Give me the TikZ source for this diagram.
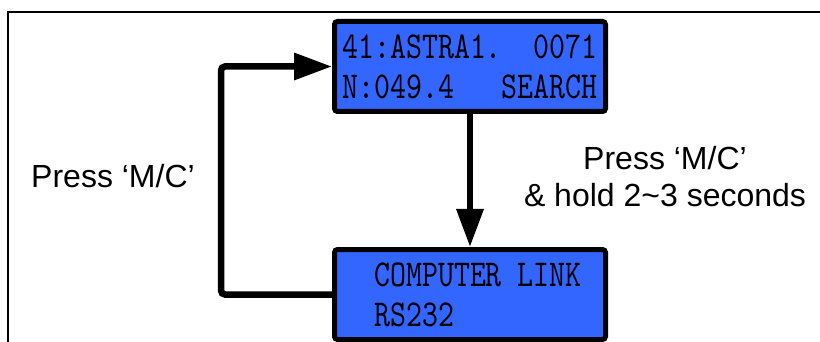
\documentclass[tikz,border=0pt]{standalone}
\usepackage{fontspec}
\usetikzlibrary{arrows.meta}
\newfontfamily\lcdfont[FakeStretch=0.8]{lmmono10-regular.otf}
\newfontfamily\labelfont{Liberation Sans}
\definecolor{lcdblue}{RGB}{51,102,255}
\begin{document}
\begin{tikzpicture}[x=0.5pt,y=-0.5pt,
    >={Triangle[length=19pt,width=13pt]},
    lcd/.style={draw,line width=2.5pt,fill=lcdblue,rounded corners=1.5pt,
        minimum width=135.5pt,minimum height=45pt,inner sep=0pt,align=left,
        font=\lcdfont\fontsize{19}{20}\selectfont},
    flow/.style={->,line width=3.25pt},
    lbl/.style={font=\labelfont\fontsize{16}{18.5}\selectfont,align=center}]
    \useasboundingbox (0,0) rectangle (820,342);
    \draw[line width=1pt] (8,342) |- (820,12);
    \node[lcd] (search) at (470,66.5) {41:ASTRA1.~~0071\\N:049.4~~~SEARCH};
    \node[lcd] (link) at (470,294.5) {~COMPUTER~LINK\\~RS232};
    \draw[flow] (search.south) -- (link.north);
    \draw[flow,rounded corners=2pt] (link.west) -- ++(-111,0) |- (search.west);
    \node[lbl] (pressleft) at (113,176) {Press ‘M/C’};
    \node[lbl] (pressright) at (665,177) {Press ‘M/C’\\\& hold 2\textasciitilde3 seconds};
\end{tikzpicture}
\end{document}
